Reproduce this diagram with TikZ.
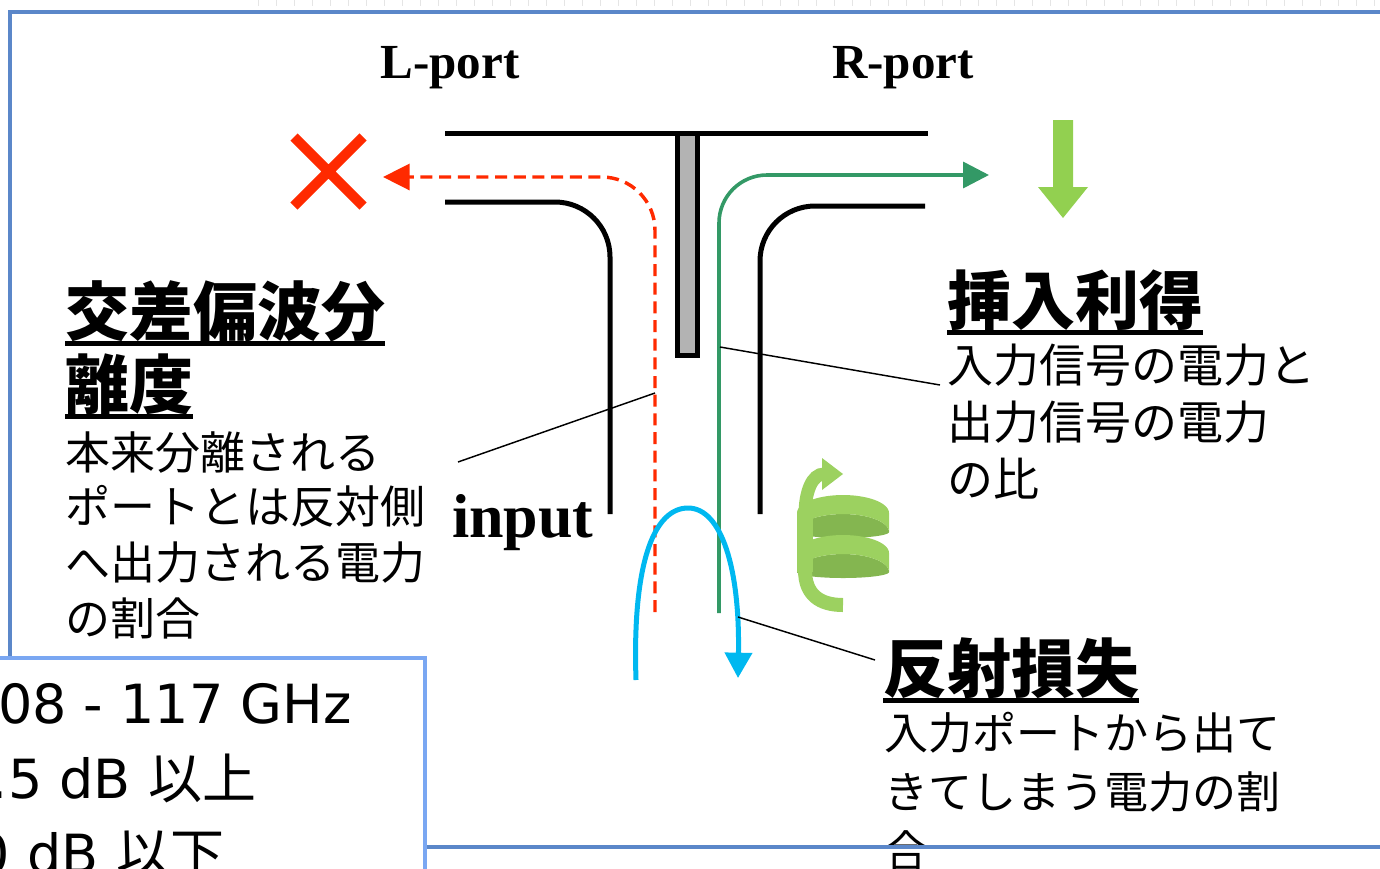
\documentclass[tikz,border=0pt]{standalone}
\usepackage{fontspec}
\setmainfont{Liberation Serif}
\newfontfamily\cjk{Noto Sans CJK JP}
\newfontfamily\dv{DejaVu Sans}
\usetikzlibrary{arrows.meta}

\definecolor{framebl}{HTML}{5B87C9}
\definecolor{boxbl}{HTML}{7AA7F2}
\definecolor{xred}{HTML}{FF2A00}
\definecolor{pathgreen}{HTML}{339966}
\definecolor{lgreen}{HTML}{92D050}
\definecolor{helixlight}{HTML}{9CD160}
\definecolor{helixdark}{HTML}{84B650}
\definecolor{refl}{HTML}{00B8F0}
\definecolor{septum}{HTML}{B3B3B3}

% heavy underline spanning the full advance width of a heading
\newcommand\ulhead[1]{\setbox0=\hbox{#1}\rlap{\rule[-8.25pt]{\wd0}{3.75pt}}\box0}

\tikzset{
  wall/.style={line width=3.75pt, black},
  leader/.style={line width=1.1pt, black},
  txt/.style={anchor=base west, inner sep=0pt, outer sep=0pt},
  headtxt/.style={txt, font=\cjk\bfseries\fontsize{48}{56}\selectfont},
  bodyL/.style={txt, font=\cjk\fontsize{33.75}{40}\selectfont},
  bodyR/.style={txt, font=\cjk\fontsize{34.5}{40}\selectfont},
  bodyRL/.style={txt, font=\cjk\fontsize{33}{40}\selectfont},
  porttxt/.style={anchor=base, inner sep=0pt, font=\bfseries\fontsize{36.75}{40}\selectfont},
  boxtxt/.style={txt, font=\fontsize{40.5}{48}\selectfont},
  band/.style={line width=12pt, helixlight},
}

\begin{document}
\begin{tikzpicture}[x=0.75pt, y=-0.75pt]
\useasboundingbox (0,0) rectangle (1380,868);

% faint ruler ticks along the top edge
\foreach \t in {258,276,...,1378}
  \draw[gray!20, line width=0.6pt] (\t,0) -- (\t,6);

% ---- waveguide walls and septum ----
\draw[wall, fill=septum] (677.5,133) rectangle (697,355);
\draw[wall] (445,133) -- (928,133);
\draw[wall, rounded corners=41.25pt] (445,202) -- (610,202) -- (610,514);
\draw[wall, rounded corners=41.25pt] (925,206) -- (760,206) -- (760,514);

% ---- signal paths ----
\draw[xred, line width=2.6pt, dash pattern=on 9pt off 5pt, rounded corners=40pt,
      -{Triangle[length=20pt,width=19.5pt]}] (655,612) -- (655,177) -- (383,177);
\draw[xred, line width=7.5pt] (294,137) -- (363,206) (363,137) -- (294,206);

\draw[pathgreen, line width=2.7pt, rounded corners=36pt,
      -{Triangle[length=19.5pt,width=19.5pt]}] (719,613) -- (719,175) -- (989,175);

\fill[lgreen] (1053,120) -- (1073,120) -- (1073,187) -- (1088,187) -- (1063,218)
  -- (1038,187) -- (1053,187) -- cycle;

\draw[refl, line width=3.75pt, -{Triangle[length=19pt,width=20pt]}]
  (636,680) .. controls (632,560) and (655,508) .. (688,508)
  .. controls (722,508) and (740,570) .. (738,678);

% ---- polarisation helix: two ribbon turns, a tail and a rising arrow ----
\foreach \cy in {513,553} {
  % inner (back) face of the turn
  \fill[helixdark]
    plot[domain=0:180, samples=40] ({843+46*cos(\x)}, {\cy+19-18*sin(\x)})
    -- plot[domain=180:360, samples=40] ({843+46*cos(\x)}, {\cy+19-6*sin(\x)}) -- cycle;
  % outer (front) face of the turn
  \fill[helixlight]
    plot[domain=0:180, samples=40] ({843+46*cos(\x)}, {\cy-18*sin(\x)})
    -- plot[domain=180:0, samples=40] ({843+46*cos(\x)}, {\cy+19-18*sin(\x)}) -- cycle;
}
\draw[band] (805,513) -- (805,572);
\draw[band, line width=10.5pt] (805,570) .. controls (805,595) and (820,605) .. (843,605);
\draw[band, line width=9.75pt] (805,515) .. controls (805,492) and (812,474) .. (824,474);
\fill[helixlight] (822,458) -- (843,474) -- (822,490) -- cycle;

% ---- labels ----
\node[porttxt] (lport) at (450,78) {L-port};
\node[porttxt] (rport) at (903,78) {R-port};
\node[txt, font=\bfseries\fontsize{46.5}{50}\selectfont] (inp) at (452,537) {input};

\node[headtxt] (xpdH1) at (65,335.2) {\ulhead{交差偏波分}};
\node[headtxt] (xpdH2) at (65,408.2) {\ulhead{離度}};
\node[bodyL] (xpdB1) at (65,469.6) {本来分離される};
\node[bodyL] (xpdB2) at (65,523.6) {ポートとは反対側};
\node[bodyL] (xpdB3) at (65,579.6) {へ出力される電力};
\node[bodyL] (xpdB4) at (65,635.6) {の割合};

\node[headtxt] (ilH) at (947,324.2) {\ulhead{挿入利得}};
\node[bodyR] (ilB1) at (947,382.5) {入力信号の電力と};
\node[bodyR] (ilB2) at (947,439.5) {出力信号の電力};
\node[bodyR] (ilB3) at (947,496.5) {の比};

\node[headtxt] (rlH) at (883,692.2) {\ulhead{反射損失}};
\node[bodyRL] (rlB1) at (884,749.3) {入力ポートから出て};
\node[bodyRL] (rlB2) at (884,808.3) {きてしまう電力の割};
\node[bodyRL] (rlB3) at (884,867.3) {合};

% ---- leader lines ----
\coordinate (xpdFoot) at (458,462);
\coordinate (xpdHit) at (655,393);
\coordinate (ilFoot) at (940,385);
\coordinate (ilHit) at (720,347);
\coordinate (rlFoot) at (875,660);
\coordinate (rlHit) at (738,617);
\draw[leader] (xpdFoot) -- (xpdHit);
\draw[leader] (ilFoot) -- (ilHit);
\draw[leader] (rlFoot) -- (rlHit);

% ---- outer frame ----
\draw[framebl, line width=3pt] (10,700) -- (10,12) -- (1390,12);
\draw[framebl, line width=3pt] (10,847) -- (1390,847);

% ---- specification box ----
\draw[boxbl, line width=3pt, fill=white] (-10,658) rectangle (425,890);
\node[boxtxt] (spec1) at (-2,723) {\dv 08 - 117 GHz};
\node[boxtxt] (spec2) at (-9,798) {{\dv .5 dB }{\cjk 以上}};
\node[boxtxt] (spec3) at (-24,873) {{\dv 0 dB }{\cjk 以下}};
\end{tikzpicture}
\end{document}
